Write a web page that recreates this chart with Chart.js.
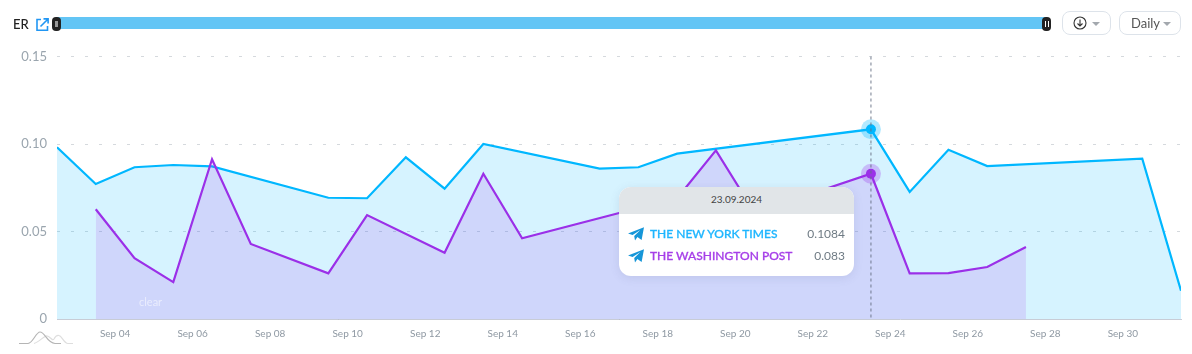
<!DOCTYPE html>
<html>
<head>
<meta charset="utf-8">
<title>ER</title>
<script src="https://cdn.jsdelivr.net/npm/chart.js@4/dist/chart.umd.min.js"></script>
<style>
    html, body { margin: 0; padding: 0; background: #fff; overflow: hidden; }
    body { position: relative; width: 1192px; height: 354px; font-family: Lato, sans-serif; }
    canvas { position: absolute; left: 0; top: 0; }
    .abs { position: absolute; }

    /* toolbar */
    .title { left: 13px; top: 16px; font-size: 13px; line-height: 16px; font-weight: 500; color: #222; }
    .range { left: 57px; top: 17px; width: 989px; height: 12px; background: #63c5f5; }
    .handle { top: 17px; width: 9px; height: 14px; background: #222; border-radius: 4px; }
    .btn { top: 11px; height: 22px; box-sizing: content-box; border: 1px solid #dde3ea; border-radius: 8px; background: #fff; }
    .caret { position: absolute; top: 10px; width: 0; height: 0; border-left: 4px solid transparent; border-right: 4px solid transparent; border-top: 4px solid #a3a8ae; }

    /* tooltip */
    .tip { left: 619px; top: 187px; width: 235px; height: 89px; background: #fff; border-radius: 12px; overflow: hidden; box-shadow: 0 2px 10px rgba(90, 100, 140, 0.14); }
    .tip-head { height: 27px; line-height: 25px; background: #e1e5e8; color: #444; font-size: 10px; text-align: center; }
    .tip-row { position: absolute; left: 0; right: 0; height: 20px; line-height: 20px; font-size: 12px; }
    .tip-row svg { position: absolute; left: 9px; top: 3px; }
    .tip-name { position: absolute; left: 31px; font-size: 12px; font-weight: 500; -webkit-text-stroke: 0.3px; }
    .tip-val { position: absolute; right: 9px; color: #6f7b84; }

    .clear { left: 139px; top: 295px; font-size: 11px; line-height: 13px; color: rgba(255, 255, 255, 0.55); }
</style>
</head>
<body>
<canvas id="chart" width="1192" height="354"></canvas>

<div class="abs title">ER</div>
<svg class="abs" style="left:36px;top:18px" width="13" height="13" viewBox="0 0 13 13" fill="none" stroke="#2196f3" stroke-width="1.6">
    <path d="M5 1.5H1v10.7h10.5V8"/>
    <path d="M4.5 8.5L11.8 1.2M7.5 .9h4.6v4.6"/>
</svg>
<div class="abs range"></div>
<div class="abs handle" style="left:52px"><div class="abs" style="left:3px;top:4px;width:3px;height:6px;background:#999"></div></div>
<div class="abs handle" style="left:1042px">
    <div class="abs" style="left:2.5px;top:4px;width:1px;height:6px;background:#fff"></div>
    <div class="abs" style="left:5.5px;top:4px;width:1px;height:6px;background:#fff"></div>
</div>

<div class="abs btn" style="left:1062px;width:47px">
    <svg class="abs" style="left:10px;top:4px" width="14" height="14" viewBox="0 0 14 14" fill="none" stroke="#333" stroke-width="1.1">
        <circle cx="7" cy="7" r="6"/>
        <path d="M7 3.5v6.5M4.5 7.5L7 10l2.5-2.5"/>
    </svg>
    <div class="caret" style="left:29px"></div>
</div>
<div class="abs btn" style="left:1119px;width:60px">
    <div class="abs" style="left:11px;top:3px;font-size:13px;line-height:16px;color:#555">Daily</div>
    <div class="caret" style="left:43px"></div>
</div>

<div class="abs clear">clear</div>

<svg class="abs" style="left:19px;top:330px" width="55" height="15" viewBox="0 0 55 15" fill="none" stroke-width="1.2">
    <path d="M15 13.5C20 12 24 7 27 6C31 5 33 12 35 9C36 7 38 5 40 5.5C43 6 45 13.5 49 13.5H54" stroke="#dedede"/>
    <path d="M0 13.5H9C14 13 17 2 21 2C26 2 28 13 36 13.5H42" stroke="#b5b5b5"/>
</svg>

<div class="abs tip" id="tip"><div class="tip-head" id="tipHead"></div></div>

<script>
    // ── Data ──────────────────────────────────────────────────────────────────

    const days = [
        'Sep 02', 'Sep 03', 'Sep 04', 'Sep 05', 'Sep 06', 'Sep 07', 'Sep 08', 'Sep 09', 'Sep 10', 'Sep 11',
        'Sep 12', 'Sep 13', 'Sep 14', 'Sep 15', 'Sep 16', 'Sep 17', 'Sep 18', 'Sep 19', 'Sep 20', 'Sep 21',
        'Sep 22', 'Sep 23', 'Sep 24', 'Sep 25', 'Sep 26', 'Sep 27', 'Sep 28', 'Sep 29', 'Sep 30', 'Oct 01'
    ];

    const nytValues = [
        0.0981, 0.0771, 0.0867, 0.088, 0.0872, null, null, 0.0693, 0.069, 0.0924,
        0.0745, 0.1, null, null, 0.0859, 0.0867, 0.0945, null, null, null,
        null, 0.1084, 0.0726, 0.0967, 0.0874, null, null, null, 0.0916, 0.0162
    ];

    const wapoValues = [
        null, 0.0627, 0.0347, 0.0211, 0.0913, 0.0429, null, 0.0261, 0.0594, null,
        0.0379, 0.083, 0.0461, null, null, 0.0634, 0.069, 0.0964, 0.0607, null,
        null, 0.083, 0.0261, 0.0262, 0.0297, 0.0411, null, null, null, null
    ];

    const seriesNames = ['THE NEW YORK TIMES', 'THE WASHINGTON POST'];
    const tickLabels = [
        'Sep 04', 'Sep 06', 'Sep 08', 'Sep 10', 'Sep 12', 'Sep 14', 'Sep 16',
        'Sep 18', 'Sep 20', 'Sep 22', 'Sep 24', 'Sep 26', 'Sep 28', 'Sep 30'
    ];
    const hoverDay = 'Sep 23';
    const hoverDate = '23.09.2024';

    const NYT_COLOUR = '#00b7ff';
    const WAPO_COLOUR = '#9b30e8';

    var hoverIndex = days.indexOf(hoverDay);

    // skip the days with no value, the line just runs across them
    function toPoints(values) {
        var out = [];
        values.forEach(function (v, i) {
            if (v !== null) out.push({ x: i, y: v });
        });
        return out;
    }

    // ── Hover crosshair and dots ──────────────────────────────────────────────

    var hoverPlugin = {
        id: 'hoverMarks',
        afterDatasetsDraw: function (chart) {
            var ctx = chart.ctx;
            var xs = chart.scales.x;
            var ys = chart.scales.y;
            var px = xs.getPixelForValue(hoverIndex);

            [[nytValues, NYT_COLOUR, 'rgba(0, 183, 255, 0.3)'], [wapoValues, WAPO_COLOUR, 'rgba(155, 48, 232, 0.28)']].forEach(function (s) {
                var py = ys.getPixelForValue(s[0][hoverIndex]);
                ctx.save();
                ctx.fillStyle = s[2];
                ctx.beginPath();
                ctx.arc(px, py, 10, 0, Math.PI * 2);
                ctx.fill();
                ctx.fillStyle = s[1];
                ctx.beginPath();
                ctx.arc(px, py, 5, 0, Math.PI * 2);
                ctx.fill();
                ctx.restore();
            });

            ctx.save();
            ctx.strokeStyle = 'rgba(100, 110, 130, 0.6)';
            ctx.lineWidth = 1.5;
            ctx.setLineDash([3, 3]);
            ctx.beginPath();
            ctx.moveTo(px, chart.chartArea.top);
            ctx.lineTo(px, chart.chartArea.bottom);
            ctx.stroke();
            ctx.restore();
        }
    };

    // ── Chart ─────────────────────────────────────────────────────────────────

    new Chart(document.getElementById('chart').getContext('2d'), {
        type: 'line',
        data: {
            datasets: [{
                label: seriesNames[0],
                data: toPoints(nytValues),
                borderColor: NYT_COLOUR,
                backgroundColor: 'rgba(0, 183, 255, 0.16)',
                borderWidth: 2.2,
                pointRadius: 0,
                tension: 0,
                fill: 'origin',
                order: 2
            }, {
                label: seriesNames[1],
                data: toPoints(wapoValues),
                borderColor: WAPO_COLOUR,
                backgroundColor: 'rgba(160, 50, 225, 0.15)',
                borderWidth: 2.2,
                pointRadius: 0,
                tension: 0,
                fill: 'origin',
                order: 1
            }]
        },
        options: {
            responsive: false,
            animation: false,
            layout: { padding: { top: 56.5, right: 11, left: 0, bottom: 0 } },
            plugins: {
                legend: { display: false },
                tooltip: { enabled: false }
            },
            scales: {
                x: {
                    type: 'linear',
                    min: 0,
                    max: days.length - 1,
                    afterBuildTicks: function (scale) {
                        // labels sit half a day to the right of their points
                        scale.ticks = tickLabels.map(function (l) {
                            return { value: days.indexOf(l) - 0.5 };
                        });
                    },
                    afterFit: function (scale) { scale.height = 35; },
                    grid: { display: false },
                    border: { display: true, color: '#c8ccd6', width: 1 },
                    ticks: {
                        autoSkip: false,
                        maxRotation: 0,
                        padding: 1,
                        color: '#8f99a3',
                        font: { family: 'Lato', size: 10 },
                        callback: function (v, i) { return tickLabels[i]; }
                    }
                },
                y: {
                    min: 0,
                    max: 0.15,
                    afterFit: function (scale) { scale.width = 57; },
                    grid: {
                        drawTicks: false,
                        lineWidth: 1,
                        color: function (c) { return c.tick.value === 0 ? '#9aa0ac' : '#d5d9dd'; }
                    },
                    border: { display: false, dash: [3, 11] },
                    ticks: {
                        stepSize: 0.05,
                        padding: 10,
                        color: '#9aa5ae',
                        font: { family: 'Lato', size: 13 },
                        callback: function (v) { return v === 0 ? '0' : v.toFixed(2); }
                    }
                }
            }
        },
        plugins: [hoverPlugin]
    });

    // ── Tooltip box ───────────────────────────────────────────────────────────

    var PLANE = '<svg width="16" height="14" viewBox="0 0 16 14"><path fill="#1696d8" d="M0 6.6L16 .2 13.6 13 9.4 9.9 7 13.6 6.2 9 12.4 3 4.6 8z"/></svg>';

    document.getElementById('tipHead').textContent = hoverDate;

    [[nytValues, '#1fb6ff', 36.5], [wapoValues, '#a63fe8', 58.5]].forEach(function (s, i) {
        var row = document.createElement('div');
        row.className = 'tip-row';
        row.style.top = s[2] + 'px';
        row.innerHTML = PLANE +
            '<span class="tip-name" style="color:' + s[1] + '">' + seriesNames[i] + '</span>' +
            '<span class="tip-val">' + s[0][hoverIndex] + '</span>';
        document.getElementById('tip').appendChild(row);
    });
</script>
</body>
</html>
